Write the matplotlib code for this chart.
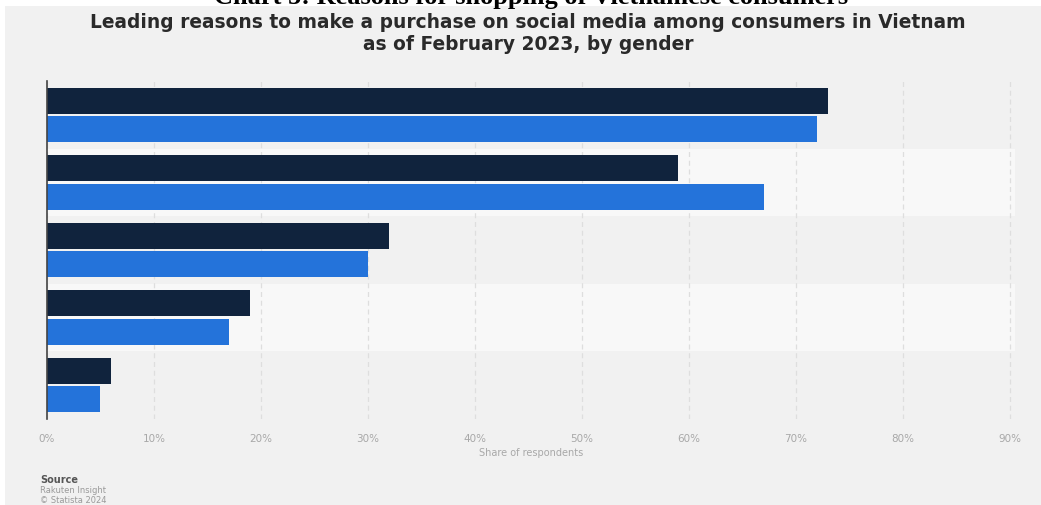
import matplotlib
matplotlib.use("Agg")
import matplotlib.pyplot as plt
from matplotlib.patches import Rectangle

# Shares of respondents (%) per reason, two gender groups
reasons = ["Reason 1", "Reason 2", "Reason 3", "Reason 4", "Reason 5"]
male = [73, 59, 32, 19, 6]
female = [72, 67, 30, 17, 5]
x_ticks = [0, 10, 20, 30, 40, 50, 60, 70, 80, 90]
x_tick_labels = [f"{t}%" for t in x_ticks]

title = "Chart 5: Reasons for shopping of Vietnamese consumers"
subtitle_1 = "Leading reasons to make a purchase on social media among consumers in Vietnam"
subtitle_2 = "as of February 2023, by gender"
x_label = "Share of respondents"

W, H = 1041, 506
fig = plt.figure(figsize=(W / 100, H / 100), dpi=100)
fig.patch.set_facecolor("white")

BG = "#f1f1f1"
BAND = "#f8f8f8"
DARK = "#10233d"
BLUE = "#2473da"

# grey panel behind the chart
fig.patches.append(Rectangle((5 / W, 0), 1 - 5 / W, 1 - 7 / H,
                             transform=fig.transFigure, facecolor=BG,
                             edgecolor="none", zorder=-5))

# chapter heading, clipped at the top edge
fig.text(531 / W, 1 - 4 / H, title, ha="center", va="baseline",
         fontsize=19, fontweight="bold", family="Liberation Serif", color="black")

fig.text(528 / W, 1 - 23 / H, subtitle_1, ha="center", va="center",
         fontsize=13.4, fontweight="bold", family="DejaVu Sans", color="#2a2a2a")
fig.text(528 / W, 1 - 45 / H, subtitle_2, ha="center", va="center",
         fontsize=13.4, fontweight="bold", family="DejaVu Sans", color="#2a2a2a")

left, right, top, bottom = 47, 1015, 82, 420
ax = fig.add_axes([left / W, 1 - bottom / H, (right - left) / W, (bottom - top) / H])
ax.set_facecolor(BG)

n = len(reasons)
ys = list(range(n))
for i in ys:
    if i % 2 == 1:
        ax.axhspan(i - 0.5, i + 0.5, color=BAND, zorder=0, lw=0)

bh = 0.385
off = 0.21
ax.barh([y - off for y in ys], male, height=bh, color=DARK, zorder=3)
ax.barh([y + off for y in ys], female, height=bh, color=BLUE, zorder=3)

ax.set_xlim(0, 90.5)
ax.set_ylim(n - 0.5, -0.5)
ax.set_yticks([])
ax.set_xticks(x_ticks)
ax.set_xticklabels(x_tick_labels, fontsize=7.5, color="#a8a8a8")
ax.tick_params(axis="x", length=0, pad=10)
ax.grid(axis="x", color="#dedede", linestyle=(0, (4, 3)), linewidth=0.9, zorder=1)
ax.set_axisbelow(True)
for s in ["top", "right", "bottom"]:
    ax.spines[s].set_visible(False)
ax.spines["left"].set_color("#444444")
ax.spines["left"].set_linewidth(1.2)
ax.spines["left"].set_zorder(4)

ax.set_xlabel(x_label, fontsize=7, color="#a8a8a8", labelpad=3)

fig.text(40 / W, 1 - 480 / H, "Source", fontsize=7, fontweight="bold",
         color="#555555", va="center", ha="left")
fig.text(40 / W, 1 - 491 / H, "Rakuten Insight", fontsize=6, color="#9a9a9a",
         va="center", ha="left")
fig.text(40 / W, 1 - 501 / H, "© Statista 2024", fontsize=6, color="#9a9a9a",
         va="center", ha="left")

fig.savefig("out.png", dpi=100, facecolor=fig.get_facecolor())
